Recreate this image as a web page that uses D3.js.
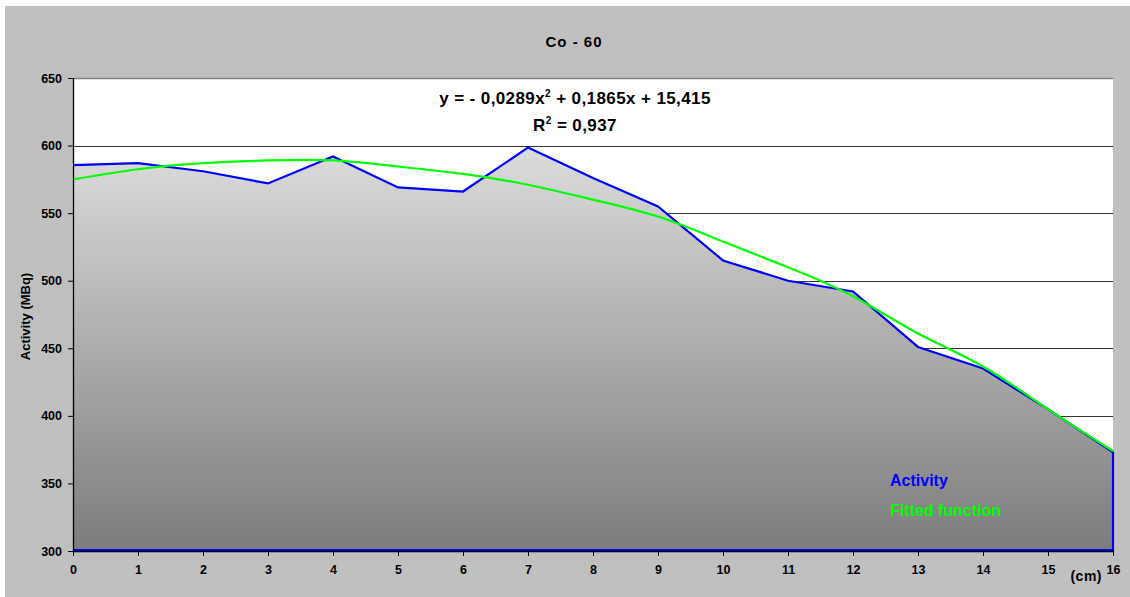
<!DOCTYPE html>
<html>
<head>
<meta charset="utf-8">
<script src="https://cdn.jsdelivr.net/npm/d3@7/dist/d3.min.js"></script>
<style>
  body { margin: 0; background: #fff; }
  svg { display: block; font-family: Arial, "Liberation Sans", sans-serif; }
</style>
</head>
<body>
<svg id="chart" width="1130" height="597"></svg>
<script>
// distance along the source (cm)
var positions = [0, 1, 2, 3, 4, 5, 6, 7, 8, 9, 10, 11, 12, 13, 14, 15, 16];
// measured activity (MBq)
var activity = [585.5, 587, 581, 572, 592, 569, 566, 598.5, 576, 555, 515, 500, 492, 451, 435, 405, 373];
// fitted curve at each position
var fitted = [575, 582.5, 587, 589, 589, 584.5, 579, 571, 560, 547.5, 529, 510, 488.5, 461, 436.5, 405, 374];

var yTicks = [300, 350, 400, 450, 500, 550, 600, 650];
var xTicks = positions;

var svg = d3.select('#chart');
var margin = {left: 73, right: 17, top: 78, bottom: 46};
var width = 1130 - margin.left - margin.right;
var height = 597 - margin.top - margin.bottom;

// chart background
svg.append('rect')
    .attr('x', 5).attr('y', 6)
    .attr('width', 1125).attr('height', 591)
    .attr('fill', '#c0c0c0');

var x = d3.scaleLinear().domain([0, 16]).range([0, width]);
var y = d3.scaleLinear().domain([300, 650]).range([height, 0]);

var defs = svg.append('defs');
var grad = defs.append('linearGradient')
    .attr('id', 'areaFill')
    .attr('x1', 0).attr('y1', 0).attr('x2', 0).attr('y2', 1);
grad.append('stop').attr('offset', '0%').attr('stop-color', '#dcdcdc');
grad.append('stop').attr('offset', '100%').attr('stop-color', '#7c7c7c');

var g = svg.append('g')
    .attr('transform', 'translate(' + margin.left + ',' + margin.top + ')');

// plot area
g.append('rect')
    .attr('width', width).attr('height', height)
    .attr('fill', '#fff');

// horizontal gridlines
g.append('g')
    .selectAll('line')
    .data(yTicks.filter(function(d) { return d > 300 && d < 650; }))
    .enter().append('line')
    .attr('x1', 0).attr('x2', width)
    .attr('y1', function(d) { return Math.round(y(d)) + 0.5; })
    .attr('y2', function(d) { return Math.round(y(d)) + 0.5; })
    .attr('stroke', '#333')
    .attr('stroke-width', 1.2);

// top border of plot
g.append('line')
    .attr('x1', 0).attr('x2', width)
    .attr('y1', 0.5).attr('y2', 0.5)
    .attr('stroke', '#808080')
    .attr('stroke-width', 1.5);

// activity area
var areaGen = d3.area()
    .x(function(d, i) { return x(positions[i]); })
    .y0(y(300))
    .y1(function(d) { return y(d); });

g.append('path')
    .datum(activity)
    .attr('d', areaGen)
    .attr('fill', 'url(#areaFill)');

// area outline: top line, right edge, bottom
var outline = activity.map(function(d, i) { return [x(positions[i]), y(d)]; });
outline.push([x(16), y(300) - 1]);
outline.push([x(0), y(300) - 1]);
g.append('path')
    .attr('d', d3.line()(outline))
    .attr('fill', 'none')
    .attr('stroke', '#0000ff')
    .attr('stroke-width', 2.2)
    .attr('stroke-linejoin', 'miter');

// fitted function
var fitLine = d3.line()
    .x(function(d, i) { return x(positions[i]); })
    .y(function(d) { return y(d); })
    .curve(d3.curveNatural);

g.append('path')
    .datum(fitted)
    .attr('d', fitLine)
    .attr('fill', 'none')
    .attr('stroke', '#00ff00')
    .attr('stroke-width', 2.2);

// axes
var yAxis = d3.axisLeft(y).tickValues(yTicks).tickSize(5).tickPadding(6);
var xAxis = d3.axisBottom(x).tickValues(xTicks).tickSize(5).tickPadding(9);

var gy = g.append('g').call(yAxis);
var gx = g.append('g').attr('transform', 'translate(0,' + height + ')').call(xAxis);

[gx, gy].forEach(function(ax) {
    ax.select('.domain').attr('stroke', '#000').attr('stroke-width', 1.3);
    ax.selectAll('.tick line').attr('stroke', '#000');
    ax.selectAll('.tick text')
        .attr('fill', '#000')
        .style('font-size', '12.5px')
        .style('font-weight', 'bold')
        .style('font-family', 'Arial, "Liberation Sans", sans-serif');
});
gy.select('.domain').attr('d', 'M0.5,0V' + height);
gx.select('.domain').attr('d', 'M0,0.5H' + width);

// unit label next to last x tick
g.append('text')
    .attr('x', x(16) - 11)
    .attr('y', height + 30)
    .attr('text-anchor', 'end')
    .style('font-size', '14px')
    .style('font-weight', 'bold')
    .style('letter-spacing', '0.5px')
    .text('(cm)');

// y axis title
svg.append('text')
    .attr('transform', 'translate(30,' + (margin.top + height / 2 + 2) + ') rotate(-90)')
    .attr('text-anchor', 'middle')
    .style('font-size', '13px')
    .style('font-weight', 'bold')
    .text('Activity (MBq)');

// title
svg.append('text')
    .attr('x', 574).attr('y', 47)
    .attr('text-anchor', 'middle')
    .style('font-size', '15px')
    .style('font-weight', 'bold')
    .style('letter-spacing', '1px')
    .text('Co - 60');

// trendline equation
var eq = svg.append('text')
    .attr('x', 575).attr('y', 104)
    .attr('text-anchor', 'middle')
    .style('font-size', '17px')
    .style('font-weight', 'bold')
    .style('letter-spacing', '0.4px');
eq.append('tspan').text('y = - 0,0289x');
eq.append('tspan').attr('dy', -7).style('font-size', '10px').text('2');
eq.append('tspan').attr('dy', 7).text(' + 0,1865x + 15,415');

var r2 = svg.append('text')
    .attr('x', 575).attr('y', 131)
    .attr('text-anchor', 'middle')
    .style('font-size', '17px')
    .style('font-weight', 'bold')
    .style('letter-spacing', '0.4px');
r2.append('tspan').text('R');
r2.append('tspan').attr('dy', -7).style('font-size', '10px').text('2');
r2.append('tspan').attr('dy', 7).text(' = 0,937');

// legend
var legend = [
    {name: 'Activity', color: '#0000ff'},
    {name: 'Fitted function', color: '#00ff00'}
];
svg.selectAll('.legend')
    .data(legend)
    .enter().append('text')
    .attr('class', 'legend')
    .attr('x', 890)
    .attr('y', function(d, i) { return 486 + i * 30; })
    .attr('fill', function(d) { return d.color; })
    .style('font-size', '16px')
    .style('font-weight', 'bold')
    .text(function(d) { return d.name; });
</script>
</body>
</html>
